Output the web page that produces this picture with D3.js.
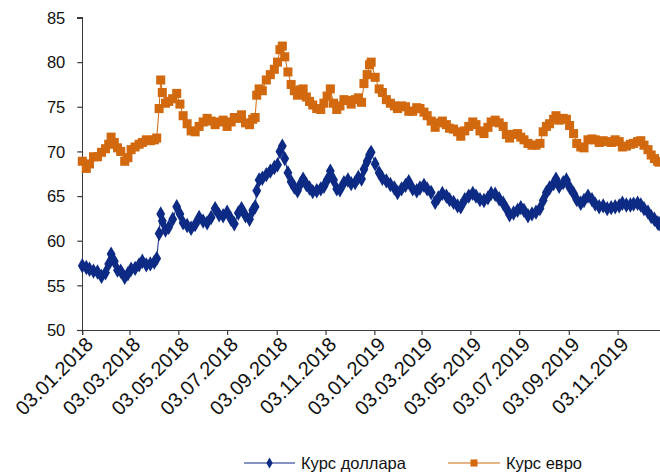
<!DOCTYPE html>
<html>
<head>
<meta charset="utf-8">
<script src="https://cdn.jsdelivr.net/npm/d3@7"></script>
<style>
  html, body { margin: 0; padding: 0; background: #fff; }
  svg { display: block; }
  text { font-family: "Liberation Sans", Arial, sans-serif; fill: #111; }
</style>
</head>
<body>
<svg id="chart" width="660" height="473"></svg>
<script>
// Exchange rates (RUB) sampled through 2018–2019
const dates = [
  "2018-01-03","2018-01-08","2018-01-12","2018-01-17","2018-01-22","2018-01-27","2018-02-01","2018-02-05",
  "2018-02-08","2018-02-12","2018-02-16","2018-02-20","2018-02-25","2018-03-01","2018-03-05","2018-03-10",
  "2018-03-15","2018-03-19","2018-03-24","2018-03-29","2018-04-03","2018-04-06","2018-04-09","2018-04-11",
  "2018-04-13","2018-04-17","2018-04-21","2018-04-26","2018-05-01","2018-05-05","2018-05-09","2018-05-14",
  "2018-05-19","2018-05-24","2018-05-29","2018-06-03","2018-06-08","2018-06-13","2018-06-18","2018-06-23",
  "2018-06-28","2018-07-03","2018-07-08","2018-07-12","2018-07-17","2018-07-21","2018-07-26","2018-07-31",
  "2018-08-04","2018-08-07","2018-08-09","2018-08-12","2018-08-16","2018-08-21","2018-08-26","2018-08-31",
  "2018-09-04","2018-09-07","2018-09-10","2018-09-13","2018-09-17","2018-09-21","2018-09-25","2018-09-29",
  "2018-10-03","2018-10-06","2018-10-10","2018-10-14","2018-10-18","2018-10-23","2018-10-28","2018-11-01",
  "2018-11-05","2018-11-09","2018-11-13","2018-11-17","2018-11-21","2018-11-26","2018-12-01","2018-12-05",
  "2018-12-10","2018-12-14","2018-12-18","2018-12-21","2018-12-25","2018-12-28","2018-12-30",
  "2019-01-04","2019-01-09","2019-01-13","2019-01-18","2019-01-23","2019-01-28","2019-02-01","2019-02-06",
  "2019-02-11","2019-02-15","2019-02-20","2019-02-25","2019-03-01","2019-03-06","2019-03-10","2019-03-15",
  "2019-03-20","2019-03-24","2019-03-29","2019-04-03","2019-04-07","2019-04-12","2019-04-17","2019-04-21",
  "2019-04-26","2019-05-01","2019-05-06","2019-05-10","2019-05-15","2019-05-20","2019-05-25","2019-05-29",
  "2019-06-03","2019-06-08","2019-06-13","2019-06-17","2019-06-21","2019-06-26","2019-07-01","2019-07-05",
  "2019-07-09","2019-07-14","2019-07-19","2019-07-24","2019-07-29","2019-08-02","2019-08-06","2019-08-10",
  "2019-08-15","2019-08-18","2019-08-22","2019-08-27","2019-08-31","2019-09-04","2019-09-09","2019-09-13",
  "2019-09-18","2019-09-22","2019-09-27","2019-10-02","2019-10-06","2019-10-11","2019-10-16","2019-10-21",
  "2019-10-26","2019-10-31","2019-11-05","2019-11-09","2019-11-14","2019-11-19","2019-11-23","2019-11-28",
  "2019-12-02","2019-12-06","2019-12-11","2019-12-15","2019-12-19","2019-12-23","2019-12-25"
];

const usd = [
  57.2,57.0,56.8,56.6,56.5,56.0,56.4,57.4,
  58.5,57.7,56.7,56.6,55.9,56.3,56.8,56.9,
  57.3,57.7,57.3,57.4,57.6,58.0,60.8,63.0,
  62.2,61.2,61.5,62.4,63.8,63.0,62.0,61.7,
  61.4,61.8,62.6,62.2,62.0,62.6,63.6,62.9,
  62.8,63.2,62.4,61.9,63.1,63.6,62.8,62.4,
  63.4,63.8,65.6,66.8,67.0,67.4,67.8,68.2,
  68.5,70.0,70.6,69.2,67.6,66.6,66.0,65.6,
  66.4,66.9,66.3,65.9,65.5,65.6,65.8,66.1,
  66.8,67.8,66.8,65.8,65.7,66.5,66.8,66.4,
  66.5,67.1,66.9,68.0,68.9,69.6,69.9,
  68.6,67.6,67.0,66.7,66.3,65.9,65.4,65.8,
  66.2,66.6,65.8,65.6,65.9,66.2,65.8,65.4,
  64.3,64.8,65.3,65.0,64.6,64.3,63.9,63.8,
  64.6,65.0,65.3,65.0,64.6,64.5,64.8,65.3,
  65.2,64.7,64.2,63.6,62.9,63.1,63.4,63.7,
  63.4,62.8,63.0,63.2,63.6,64.5,65.4,65.9,
  66.4,66.9,66.1,66.5,66.8,66.0,65.3,64.6,
  64.2,64.5,65.0,64.6,64.1,63.8,63.9,63.6,
  63.7,63.8,63.9,64.2,64.0,64.0,64.1,64.2,
  64.0,63.6,63.2,62.7,62.4,62.0,61.9
];

const eur = [
  68.9,68.1,68.6,69.4,69.4,69.9,70.3,70.8,
  71.6,71.0,70.4,70.0,68.9,69.3,70.2,70.5,
  70.8,71.0,71.3,71.2,71.3,71.5,74.8,78.0,
  76.6,75.4,75.6,75.9,76.5,75.3,74.0,73.1,
  72.3,72.2,72.8,73.3,73.7,73.4,73.0,73.3,
  73.5,72.8,73.3,73.8,73.7,74.1,73.2,73.0,
  73.6,73.8,76.3,77.0,76.8,78.0,78.6,79.2,
  80.0,81.4,81.8,80.6,78.9,77.5,76.8,76.3,
  76.9,77.0,76.1,75.6,75.2,74.8,74.7,75.4,
  76.2,77.0,75.4,74.7,75.1,75.8,75.7,75.3,
  75.8,76.0,75.5,77.6,78.6,79.7,80.0,
  78.3,77.0,76.6,75.8,75.4,75.1,74.8,75.1,
  75.0,74.5,74.5,74.9,74.8,74.4,74.0,73.4,
  72.7,73.2,73.4,73.0,72.6,72.5,72.2,71.7,
  72.3,72.8,73.3,73.0,72.3,72.0,72.7,73.3,
  73.5,73.2,72.8,71.9,71.5,71.9,72.0,71.6,
  71.3,70.9,70.7,70.7,70.9,72.2,72.8,73.1,
  73.6,74.0,73.5,73.7,73.6,72.9,72.0,70.9,
  70.5,70.4,71.3,71.4,71.3,71.0,71.2,71.1,
  71.0,71.3,71.1,70.5,70.6,70.8,70.9,71.1,
  71.2,70.7,70.2,69.6,69.2,68.9,68.8
];

const tickDates = [
  "2018-01-03","2018-03-03","2018-05-03","2018-07-03","2018-09-03","2018-11-03",
  "2019-01-03","2019-03-03","2019-05-03","2019-07-03","2019-09-03","2019-11-03"
];
const yTicks = [50, 55, 60, 65, 70, 75, 80, 85];
const seriesNames = ["Курс доллара", "Курс евро"];
const seriesColors = ["#0d2b84", "#d2690e"];

const parse = d3.utcParse("%Y-%m-%d");
const fmt = d3.utcFormat("%d.%m.%Y");

const svg = d3.select("#chart");

const x = d3.scaleUtc()
  .domain([parse("2018-01-03"), parse("2019-12-31")])
  .range([82.3, 664]);
const y = d3.scaleLinear().domain([50, 85]).range([330, 17.5]);

const axisColor = "#3a3a3a";

// Y axis
const yAxis = svg.append("g")
  .attr("transform", "translate(82.3,0)")
  .call(d3.axisLeft(y).tickValues(yTicks).tickSize(5).tickPadding(12).tickFormat(d3.format("d")));
yAxis.selectAll("text").style("font-size", "16.5px").attr("dy", "0.35em");

// X axis with rotated date labels
const xAxis = svg.append("g")
  .attr("transform", "translate(0,330)")
  .call(d3.axisBottom(x).tickValues(tickDates.map(parse)).tickSize(5).tickFormat(fmt));
xAxis.selectAll("text")
  .style("font-size", "20px")
  .attr("text-anchor", "end")
  .attr("dy", "0")
  .attr("transform", "translate(6,10) rotate(-45)");

[yAxis, xAxis].forEach(g => {
  g.selectAll("path, line").attr("stroke", axisColor).attr("stroke-width", 1.2);
  g.select(".domain").attr("shape-rendering", "crispEdges");
});

// Series
svg.append("defs").append("clipPath").attr("id", "plot")
  .append("rect").attr("x", 70).attr("y", 0).attr("width", 600).attr("height", 340);

const plot = svg.append("g").attr("clip-path", "url(#plot)");

const xs = dates.map(parse);
const line = d3.line().x(d => x(d[0])).y(d => y(d[1]));

const diamond = d3.symbol().type(d3.symbolDiamond).size(68);
const square = d3.symbol().type(d3.symbolSquare).size(82);

[[usd, diamond], [eur, square]].forEach(([vals, sym], i) => {
  const pts = xs.map((d, j) => [d, vals[j]]);
  plot.append("path")
    .attr("d", line(pts))
    .attr("fill", "none")
    .attr("stroke", seriesColors[i])
    .attr("stroke-width", 1);
  plot.append("g").selectAll("path").data(pts).join("path")
    .attr("transform", d => `translate(${x(d[0])},${y(d[1])})`)
    .attr("d", sym())
    .attr("fill", seriesColors[i]);
});

// Legend
const legendMarkers = [
  d3.symbol().type(d3.symbolDiamond).size(34),
  d3.symbol().type(d3.symbolSquare).size(50)
];
const legend = svg.append("g").attr("transform", "translate(0,463)");
const legendItems = [
  { x0: 244, x1: 295, tx: 301 },
  { x0: 448, x1: 500, tx: 506 }
];
legendItems.forEach((it, i) => {
  legend.append("line")
    .attr("x1", it.x0).attr("x2", it.x1).attr("y1", 0).attr("y2", 0)
    .attr("stroke", seriesColors[i]).attr("stroke-width", 1.2);
  legend.append("path")
    .attr("transform", `translate(${(it.x0 + it.x1) / 2},0)`)
    .attr("d", legendMarkers[i]())
    .attr("fill", seriesColors[i]);
  legend.append("text")
    .attr("x", it.tx).attr("y", 0).attr("dy", "0.36em")
    .style("font-size", "16.5px")
    .text(seriesNames[i]);
});
</script>
</body>
</html>
